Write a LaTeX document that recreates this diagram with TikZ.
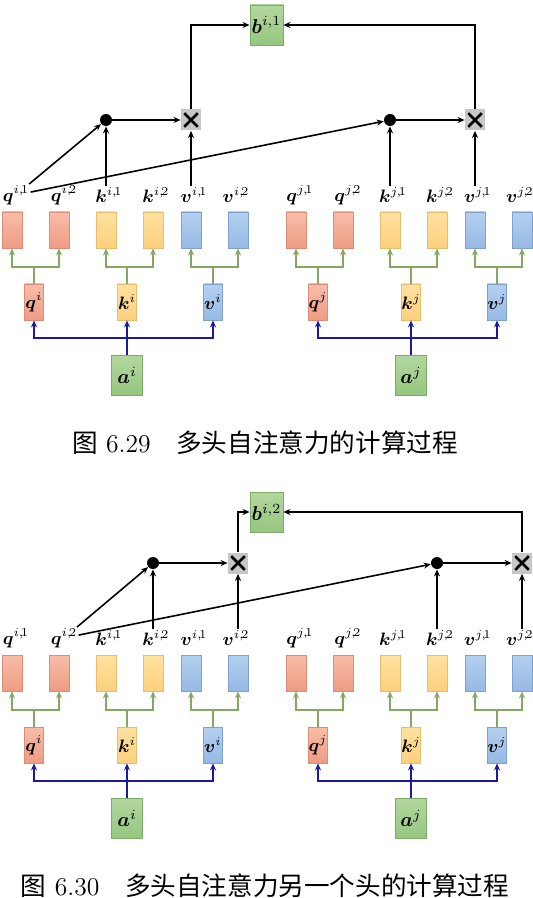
\documentclass[tikz,border=0pt]{standalone}
\usepackage{amsmath,bm}
\usepackage{fontspec}
\newfontfamily\cjk{Noto Sans CJK SC}
\usetikzlibrary{arrows.meta}
\definecolor{qtop}{RGB}{247,190,170}
\definecolor{qbot}{RGB}{238,155,130}
\definecolor{qline}{RGB}{222,140,115}
\definecolor{ktop}{RGB}{255,225,160}
\definecolor{kbot}{RGB}{252,208,125}
\definecolor{kline}{RGB}{232,190,110}
\definecolor{vtop}{RGB}{180,208,240}
\definecolor{vbot}{RGB}{150,185,228}
\definecolor{vline}{RGB}{128,160,205}
\definecolor{atop}{RGB}{178,215,158}
\definecolor{abot}{RGB}{150,198,128}
\definecolor{aline}{RGB}{125,172,105}
\definecolor{gline}{RGB}{130,168,100}
\definecolor{bline}{RGB}{25,25,165}

\begin{document}
\begin{tikzpicture}[x=0.5pt, y=-0.5pt,
    vec/.style={minimum width=10pt, minimum height=18pt, inner sep=0pt, font=\small},
    qv/.style={vec, top color=qtop, bottom color=qbot, draw=qline},
    kv/.style={vec, top color=ktop, bottom color=kbot, draw=kline},
    vv/.style={vec, top color=vtop, bottom color=vbot, draw=vline},
    inp/.style={minimum width=15.5pt, minimum height=20pt, inner sep=0pt,
                top color=atop, bottom color=abot, draw=aline},
    vlab/.style={font=\small, inner sep=0.5pt},
    dotop/.style={circle, fill=black, minimum size=6pt, inner sep=0pt},
    mulop/.style={fill=black!22, minimum width=10pt, minimum height=10.5pt, inner sep=0pt,
        path picture={
            \draw[line width=1.3pt]
                ([shift={(1.6pt,1.8pt)}]path picture bounding box.south west) --
                ([shift={(-1.6pt,-1.8pt)}]path picture bounding box.north east)
                ([shift={(1.6pt,-1.8pt)}]path picture bounding box.north west) --
                ([shift={(-1.6pt,1.8pt)}]path picture bounding box.south east);}},
    arr/.style={-{Stealth[length=3.5pt, width=3pt]}, line width=0.8pt},
    garr/.style={arr, draw=gline, line width=1pt},
    barr/.style={arr, draw=bline, line width=1pt},
    figcap/.style={font=\fontsize{12.8}{15}\selectfont}
]
    \useasboundingbox (0,0) rectangle (533,898);

    \foreach \f/\dy/\by/\fn/\cap in {1/0/25/29/{多头自注意力的计算过程},
                                     2/443/69/30/{多头自注意力另一个头的计算过程}}{
    \begin{scope}[shift={(0,\dy)}]
        \foreach \h/\dx in {i/0, j/284}{
        \begin{scope}[shift={(\dx,0)}]
            % heads
            \node[vlab] (q\h1-\f) at (16,195) {$\bm{q}^{\h,\!1}$};
            \node[vlab] (q\h2-\f) at (64,195) {$\bm{q}^{\h,\!2}$};
            \node[vlab] (k\h1-\f) at (109,195) {$\bm{k}^{\h,\!1}$};
            \node[vlab] (k\h2-\f) at (156,195) {$\bm{k}^{\h,\!2}$};
            \node[vlab] (v\h1-\f) at (194,195) {$\bm{v}^{\h,\!1}$};
            \node[vlab] (v\h2-\f) at (236,195) {$\bm{v}^{\h,\!2}$};
            \node[qv] (box-q\h1-\f) at (12,230) {};
            \node[qv] (box-q\h2-\f) at (59,230) {};
            \node[kv] (box-k\h1-\f) at (106,230) {};
            \node[kv] (box-k\h2-\f) at (153,230) {};
            \node[vv] (box-v\h1-\f) at (191,230) {};
            \node[vv] (box-v\h2-\f) at (238,230) {};
            % q, k, v and input
            \node[qv, minimum width=9.5pt] (q\h-\f) at (34,302) {$\bm{q}^{\h}$};
            \node[kv, minimum width=9.5pt] (k\h-\f) at (127,302) {$\bm{k}^{\h}$};
            \node[vv, minimum width=9.5pt] (v\h-\f) at (213,302) {$\bm{v}^{\h}$};
            \node[inp] (a\h-\f) at (127,375) {$\bm{a}^{\h}$};
            \node[dotop] (dot\h-\f) at (box-k\h\f-\f |- 0,120) {};
            \node[mulop] (mul\h-\f) at (box-v\h\f-\f |- 0,120) {};

            \draw[barr] (a\h-\f) -- (k\h-\f);
            \draw[barr] (a\h-\f.north) -- ++(0,-17) -| (q\h-\f.south);
            \draw[barr] (a\h-\f.north) -- ++(0,-17) -| (v\h-\f.south);
            \foreach \m in {q,k,v}{
                \draw[garr] (\m\h-\f.north) -- ++(0,-17) -| (box-\m\h1-\f.south);
                \draw[garr] (\m\h-\f.north) -- ++(0,-17) -| (box-\m\h2-\f.south);
            }
            \draw[arr] (dot\h-\f |- k\h\f-\f.north) -- (dot\h-\f);
            \draw[arr] (mul\h-\f |- v\h\f-\f.north) -- (mul\h-\f);
            \draw[arr] (dot\h-\f) -- (mul\h-\f);
        \end{scope}}

        \node[inp, minimum width=16.5pt] (b-\f) at (266.5,\by) {$\bm{b}^{i,\f}$};
        \draw[arr] (qi\f-\f) -- (doti-\f);
        \draw[arr] (qi\f-\f) -- (dotj-\f);
        \draw[arr] (muli-\f) |- (b-\f);
        \draw[arr] (mulj-\f) |- (b-\f);

        \node[figcap] (cap-\f) at (265,443) {{\cjk 图} 6.\fn\quad{\cjk \cap}};
    \end{scope}}
\end{tikzpicture}
\end{document}
